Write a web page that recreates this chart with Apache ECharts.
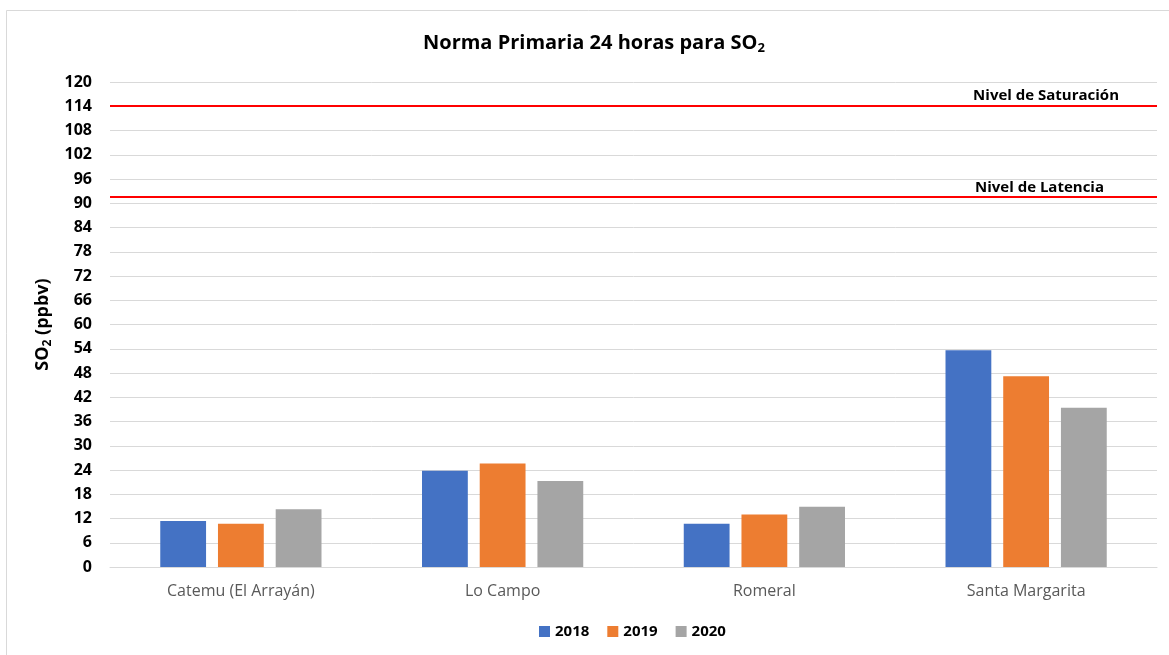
<!DOCTYPE html>
<html>
<head>
<meta charset="utf-8">
<script src="https://cdn.jsdelivr.net/npm/echarts@6/dist/echarts.min.js"></script>
<style>
html, body { margin: 0; padding: 0; background: #fff; }
#chart { width: 1169px; height: 655px; }
</style>
</head>
<body>
<div id="chart"></div>
<script>
// estaciones y años
const stations = ['Catemu (El Arrayán)', 'Lo Campo', 'Romeral', 'Santa Margarita'];
const years = ['2018', '2019', '2020'];
const values2018 = [11.4, 23.8, 10.7, 53.6];
const values2019 = [10.7, 25.6, 13.0, 47.2];
const values2020 = [14.3, 21.3, 14.9, 39.4];
// niveles de la norma
const saturationLevel = 114.2;
const latencyLevel = 91.6;

const colors = ['#4472C4', '#ED7D31', '#A5A5A5'];
const font = 'Open Sans';

function barSeries(name, data, withLines) {
    const s = {
        name: name,
        type: 'bar',
        data: data,
        barWidth: '17.5%',
        barGap: '26%',
        itemStyle: { color: colors[years.indexOf(name)] }
    };
    if (withLines) {
        s.markLine = {
            silent: true,
            symbol: 'none',
            lineStyle: { color: '#FF0000', width: 2, type: 'solid' },
            label: {
                position: 'insideEndTop',
                distance: [38, 2],
                color: '#000',
                fontFamily: font,
                fontWeight: 'bold',
                fontSize: 15
            },
            data: [
                { yAxis: saturationLevel, label: { formatter: 'Nivel de Saturación' } },
                { yAxis: latencyLevel, label: { formatter: 'Nivel de Latencia', distance: [53, 2] } }
            ]
        };
    }
    return s;
}

const chart = echarts.init(document.getElementById('chart'), null, { renderer: 'canvas' });
chart.setOption({
    backgroundColor: '#fff',
    animation: false,
    color: colors,
    graphic: [{
        type: 'rect',
        shape: { x: 6.5, y: 10.5, width: 1200, height: 700 },
        style: { fill: 'none', stroke: '#D9D9D9', lineWidth: 1 },
        silent: true
    }],
    title: {
        text: '{a|Norma Primaria 24 horas para SO}{b|2}',
        left: 418,
        top: 26,
        textStyle: {
            rich: {
                a: { fontFamily: font, fontWeight: 'bold', fontSize: 20, color: '#000' },
                b: { fontFamily: font, fontWeight: 'bold', fontSize: 13, color: '#000', padding: [11, 0, 0, 0] }
            }
        }
    },
    legend: {
        bottom: 11,
        left: 534,
        itemWidth: 11,
        itemHeight: 11,
        itemGap: 18,
        icon: 'rect',
        textStyle: { fontFamily: font, fontWeight: 'bold', fontSize: 15, color: '#000' },
        data: years
    },
    grid: { left: 110, right: 12, top: 82, bottom: 88 },
    xAxis: {
        type: 'category',
        data: stations,
        axisTick: { show: false },
        axisLine: { lineStyle: { color: '#D9D9D9' } },
        axisLabel: { color: '#595959', fontFamily: font, fontSize: 16, margin: 16 }
    },
    yAxis: {
        type: 'value',
        min: 0,
        max: 120,
        interval: 6,
        name: '{a|SO}{b|2}{a| (ppbv)}',
        nameLocation: 'middle',
        nameGap: 56,
        nameRotate: 90,
        nameTextStyle: {
            rich: {
                a: { fontFamily: font, fontWeight: 'bold', fontSize: 18, color: '#000' },
                b: { fontFamily: font, fontWeight: 'bold', fontSize: 12, color: '#000', padding: [10, 0, 0, 0] }
            }
        },
        axisLine: { show: false },
        axisTick: { show: false },
        axisLabel: { color: '#000', fontFamily: font, fontWeight: 'bold', fontSize: 16, margin: 18 },
        splitLine: { lineStyle: { color: '#D9D9D9', width: 1 } }
    },
    series: [
        barSeries('2018', values2018, true),
        barSeries('2019', values2019, false),
        barSeries('2020', values2020, false)
    ]
});
</script>
</body>
</html>
